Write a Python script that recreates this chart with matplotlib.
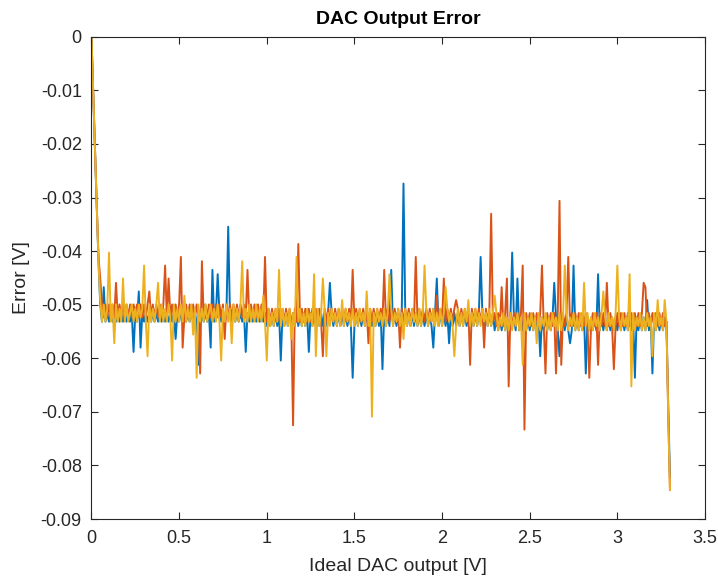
import numpy as np
import matplotlib
matplotlib.use("Agg")
import matplotlib.pyplot as plt

# ideal DAC output grid [V], 0.01 V steps
x_start = 0.0
x_stop = 3.3
x_count = 331
lsb = 3.3 / 4096  # one DAC step [V]

# error, in DAC steps (LSB), one value per 0.01 V
err_blue_lsb = [
    0, -13, -26, -39, -52, -62, -66, -58, -66, -64,
    -66, -64, -66, -64, -66, -64, -66, -64, -66, -64,
    -66, -64, -66, -64, -73, -64, -66, -59, -72, -64,
    -66, -64, -66, -64, -66, -64, -66, -64, -66, -64,
    -66, -64, -66, -64, -66, -64, -66, -64, -70, -64,
    -66, -64, -66, -64, -66, -64, -66, -64, -66, -64,
    -66, -76, -66, -64, -66, -64, -66, -64, -72, -54,
    -66, -64, -55, -64, -66, -64, -66, -64, -44, -64,
    -66, -64, -66, -64, -66, -64, -66, -64, -73, -64,
    -66, -64, -66, -64, -66, -64, -66, -64, -66, -64,
    -67, -64, -67, -64, -67, -64, -67, -64, -75, -64,
    -67, -64, -67, -64, -67, -64, -67, -64, -67, -64,
    -67, -64, -67, -64, -73, -64, -67, -64, -67, -64,
    -67, -64, -67, -64, -67, -64, -57, -64, -67, -64,
    -67, -64, -67, -64, -67, -64, -67, -64, -67, -79,
    -67, -64, -67, -64, -67, -64, -67, -64, -67, -64,
    -67, -64, -67, -64, -67, -64, -77, -64, -67, -64,
    -67, -54, -67, -64, -67, -64, -67, -64, -34, -64,
    -67, -64, -67, -64, -67, -64, -67, -64, -67, -64,
    -67, -64, -67, -64, -67, -72, -64, -56, -67, -64,
    -67, -64, -67, -64, -71, -64, -67, -64, -67, -64,
    -67, -64, -67, -64, -67, -64, -67, -64, -67, -64,
    -67, -64, -51, -64, -67, -64, -67, -64, -67, -64,
    -68, -65, -68, -65, -68, -65, -68, -65, -68, -65,
    -50, -65, -68, -56, -68, -65, -68, -65, -68, -65,
    -68, -65, -68, -65, -68, -65, -74, -65, -68, -65,
    -68, -65, -68, -65, -57, -65, -68, -74, -68, -65,
    -68, -65, -68, -71, -68, -53, -68, -65, -68, -65,
    -68, -65, -78, -65, -68, -65, -68, -65, -68, -55,
    -68, -65, -68, -65, -68, -65, -68, -65, -68, -65,
    -68, -65, -68, -65, -68, -65, -68, -65, -68, -65,
    -79, -65, -68, -65, -68, -65, -68, -61, -68, -65,
    -78, -65, -68, -65, -68, -65, -68, -65, -66, -85,
    -102,
]

err_orange_lsb = [
    0, -13, -26, -39, -51, -56, -62, -65, -62, -65,
    -62, -65, -62, -65, -57, -65, -62, -65, -62, -65,
    -62, -65, -62, -65, -62, -64, -62, -65, -62, -65,
    -62, -65, -62, -59, -65, -62, -65, -62, -65, -62,
    -65, -62, -53, -65, -56, -65, -62, -65, -62, -65,
    -62, -51, -72, -65, -62, -65, -62, -65, -62, -65,
    -62, -65, -78, -52, -65, -62, -65, -62, -65, -62,
    -65, -62, -65, -62, -65, -62, -70, -62, -65, -62,
    -65, -62, -65, -62, -65, -62, -65, -62, -65, -54,
    -65, -62, -65, -62, -65, -62, -65, -62, -65, -51,
    -66, -63, -66, -63, -66, -63, -66, -63, -66, -63,
    -66, -63, -66, -63, -66, -90, -63, -66, -48, -66,
    -63, -66, -63, -66, -63, -66, -63, -66, -63, -66,
    -63, -66, -74, -63, -66, -63, -66, -63, -66, -63,
    -66, -63, -66, -63, -66, -63, -66, -63, -66, -54,
    -66, -63, -66, -63, -66, -63, -66, -63, -71, -63,
    -66, -63, -66, -63, -66, -63, -66, -54, -66, -63,
    -66, -63, -66, -63, -66, -63, -72, -63, -66, -63,
    -66, -63, -66, -63, -66, -51, -66, -63, -66, -63,
    -66, -63, -66, -63, -66, -63, -66, -60, -66, -63,
    -66, -56, -66, -63, -66, -63, -66, -63, -61, -63,
    -66, -63, -66, -63, -66, -63, -76, -63, -66, -63,
    -66, -63, -66, -63, -72, -63, -66, -63, -41, -66,
    -64, -67, -64, -67, -58, -67, -64, -56, -81, -64,
    -67, -64, -67, -64, -67, -64, -53, -91, -64, -67,
    -64, -67, -64, -67, -64, -67, -64, -53, -67, -78,
    -64, -67, -64, -67, -64, -78, -64, -38, -76, -64,
    -67, -64, -51, -67, -64, -67, -64, -67, -64, -67,
    -64, -67, -64, -67, -79, -67, -64, -67, -64, -76,
    -64, -67, -64, -67, -57, -67, -64, -67, -77, -67,
    -64, -67, -64, -67, -64, -67, -64, -67, -64, -67,
    -64, -67, -64, -67, -64, -57, -58, -67, -64, -67,
    -64, -67, -64, -67, -64, -67, -64, -67, -66, -87,
    -105,
]

err_yellow_lsb = [
    0, -13, -26, -39, -52, -61, -66, -62, -66, -63,
    -50, -66, -62, -71, -62, -66, -63, -66, -56, -66,
    -62, -66, -64, -62, -66, -63, -66, -62, -65, -63,
    -53, -66, -74, -62, -66, -63, -66, -62, -57, -66,
    -62, -66, -63, -66, -62, -65, -75, -62, -66, -63,
    -66, -62, -66, -60, -66, -63, -66, -62, -69, -63,
    -79, -62, -66, -63, -66, -62, -66, -64, -62, -66,
    -63, -66, -62, -66, -75, -63, -66, -62, -66, -63,
    -71, -62, -66, -63, -66, -62, -52, -66, -63, -66,
    -62, -66, -63, -66, -62, -66, -63, -66, -60, -66,
    -75, -63, -67, -64, -67, -63, -66, -54, -67, -63,
    -67, -64, -67, -63, -70, -64, -67, -51, -66, -63,
    -67, -64, -67, -63, -66, -64, -67, -55, -74, -63,
    -67, -64, -56, -63, -74, -64, -67, -63, -66, -64,
    -67, -63, -67, -61, -67, -63, -66, -64, -67, -63,
    -67, -64, -67, -63, -66, -64, -67, -59, -67, -63,
    -88, -64, -67, -63, -66, -64, -67, -63, -67, -64,
    -55, -63, -67, -64, -66, -63, -67, -64, -70, -63,
    -67, -64, -67, -63, -66, -64, -67, -63, -67, -64,
    -53, -63, -67, -64, -66, -63, -67, -64, -67, -63,
    -67, -64, -58, -63, -66, -64, -67, -74, -67, -63,
    -67, -64, -67, -63, -66, -61, -67, -64, -67, -63,
    -67, -64, -67, -63, -66, -64, -67, -63, -67, -64,
    -60, -64, -68, -65, -67, -64, -68, -65, -68, -64,
    -68, -65, -67, -64, -68, -65, -76, -64, -68, -65,
    -67, -64, -68, -65, -71, -64, -68, -65, -67, -64,
    -68, -65, -68, -64, -67, -65, -68, -64, -68, -65,
    -53, -64, -68, -65, -67, -64, -68, -65, -68, -64,
    -68, -57, -67, -64, -68, -65, -68, -64, -67, -65,
    -68, -64, -59, -65, -68, -64, -67, -65, -68, -64,
    -53, -65, -68, -64, -67, -65, -68, -55, -81, -64,
    -68, -65, -67, -64, -68, -65, -68, -64, -67, -65,
    -74, -64, -68, -61, -67, -65, -68, -61, -66, -87,
    -105,
]

x_ticks = [0, 0.5, 1, 1.5, 2, 2.5, 3, 3.5]
y_ticks = [0, -0.01, -0.02, -0.03, -0.04, -0.05, -0.06, -0.07, -0.08, -0.09]

# matlab default colour order
colors = ["#0072BD", "#D95319", "#EDB120"]

plt.rcParams["font.family"] = ["Liberation Sans", "DejaVu Sans"]

x = np.linspace(x_start, x_stop, x_count)

fig = plt.figure(figsize=(7.18, 5.81), dpi=100)
ax = fig.add_axes([0.1274, 0.1067, 0.8545, 0.830])

for vals, col in zip([err_blue_lsb, err_orange_lsb, err_yellow_lsb], colors):
    ax.plot(x, np.array(vals) * lsb, color=col, linewidth=1.4)

ax.set_xlim(0, 3.5)
ax.set_ylim(-0.09, 0)
ax.set_xticks(x_ticks)
ax.set_xticklabels([("%g" % t) for t in x_ticks])
ax.set_yticks(y_ticks)
ax.set_yticklabels([("%g" % t) for t in y_ticks])

#matlab look: box, inward ticks on all sides
axis_col = "#262626"
for s in ax.spines.values():
    s.set_color(axis_col)
    s.set_linewidth(0.8)
ax.tick_params(direction="in", top=True, right=True, length=5, width=0.8,
               colors=axis_col, labelsize=13)
ax.tick_params(axis="x", pad=8)
ax.tick_params(axis="y", pad=7)

ax.set_title("DAC Output Error", fontsize=14, fontweight="bold", pad=9)
ax.set_xlabel("Ideal DAC output [V]", fontsize=14, color=axis_col, labelpad=8)
ax.set_ylabel("Error [V]", fontsize=14, color=axis_col, labelpad=8)

fig.savefig("out.png", dpi=100)
